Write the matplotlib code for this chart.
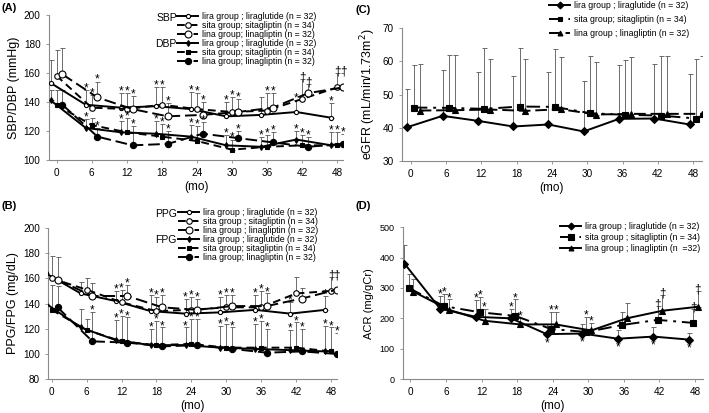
import numpy as np
import matplotlib
matplotlib.use("Agg")
from matplotlib import pyplot as plt
from matplotlib.lines import Line2D

plt.rcParams['font.family'] = ['Liberation Sans', 'DejaVu Sans']

months = [0, 6, 12, 18, 24, 30, 36, 42, 48]
groups = ['lira group ; liraglutide (n = 32)',
          'sita group; sitagliptin (n = 34)',
          'lina group; linagliptin (n = 32)']

# (A) blood pressure
sbp_lira = [153, 138, 136, 137, 135, 130, 131, 133, 129]
sbp_sita = [158, 136, 135, 138, 135, 133, 134, 142, 150]
sbp_lina = [159, 143, 135, 130, 131, 133, 136, 146, 150]
sbp_lira_top = [169, 148, 146, 150, 147, 140, 143, 141, 139]
sbp_sita_top = [176, 145, 146, 150, 146, 143, 146, 156, 160]
sbp_lina_top = [177, 154, 144, 139, 140, 142, 146, 152, 160]
dbp_lira = [141, 122, 119, 118, 116, 110, 109, 114, 110]
dbp_sita = [138, 124, 119, 116, 113, 107, 109, 110, 110]
dbp_lina = [138, 116, 110, 111, 118, 115, 112, 109, 111]
dbp_lira_top = [148, 128, 127, 127, 124, 117, 116, 120, 119]
dbp_sita_top = [148, 129, 129, 125, 123, 114, 117, 117, 119]
dbp_lina_top = [148, 122, 123, 120, 126, 120, 119, 116, 118]
sbp_lira_mk = ['', '*', '*', '*', '*', '*', '', '*', '*']
sbp_sita_mk = ['', '*', '*', '*', '*', '*', '*', '\u2020', '\u2020']
sbp_lina_mk = ['', '*', '*', '*', '*', '*', '*', '\u2020', '\u2020']
dbp_lira_mk = ['', '*', '*', '*', '*', '*', '*', '*', '*']
dbp_sita_mk = ['', '', '*', '*', '*', '*', '*', '*', '*']
dbp_lina_mk = ['', '*', '*', '*', '*', '*', '*', '*', '*']

# (B) glucose
ppg_lira = [164, 148, 142, 134, 132, 133, 135, 132, 135]
ppg_sita = [160, 151, 141, 134, 135, 137, 137, 148, 150]
ppg_lina = [159, 146, 146, 137, 135, 138, 138, 144, 151]
ppg_lira_top = [180, 157, 150, 147, 144, 145, 147, 141, 146]
ppg_sita_top = [178, 160, 151, 145, 145, 147, 150, 161, 161]
ppg_lina_top = [177, 156, 155, 147, 144, 147, 148, 152, 161]
fpg_lira = [140, 121, 111, 107, 107, 105, 104, 103, 102]
fpg_sita = [135, 119, 110, 107, 108, 105, 105, 105, 102]
fpg_lina = [137, 110, 109, 106, 107, 104, 101, 102, 100]
fpg_lira_top = [160, 136, 127, 120, 121, 122, 124, 119, 122]
fpg_sita_top = [155, 128, 130, 126, 128, 124, 126, 125, 121]
fpg_lina_top = [154, 133, 129, 121, 128, 121, 120, 120, 117]
ppg_lira_mk = ['', '', '*', '*', '*', '*', '*', '*', '*']
ppg_sita_mk = ['', '', '*', '*', '*', '*', '*', '', '\u2020']
ppg_lina_mk = ['', '', '*', '*', '*', '*', '*', '', '\u2020']
fpg_lira_mk = ['', '', '*', '*', '*', '*', '*', '*', '*']
fpg_sita_mk = ['', '', '*', '*', '*', '*', '*', '*', '*']
fpg_lina_mk = ['', '*', '*', '*', '*', '*', '*', '*', '*']

# (C) eGFR
egfr_lira = [40.2, 43.6, 42.1, 40.4, 41.0, 38.9, 42.7, 42.8, 41.0]
egfr_sita = [46.1, 46.0, 45.7, 46.4, 46.3, 44.4, 43.9, 43.7, 42.8]
egfr_lina = [45.2, 45.3, 45.5, 45.1, 45.6, 44.0, 44.2, 44.2, 44.2]
egfr_lira_top = [51.8, 57.5, 56.7, 55.7, 56.9, 54.0, 59.0, 59.2, 56.3]
egfr_sita_top = [58.8, 61.8, 64.0, 64.1, 63.6, 61.5, 60.3, 61.5, 60.6]
egfr_lina_top = [59.3, 61.8, 60.7, 60.7, 61.2, 59.9, 61.2, 61.5, 61.6]

# (D) ACR
acr_lira = [380, 232, 205, 200, 148, 150, 133, 140, 130]
acr_sita = [300, 240, 220, 208, 165, 155, 178, 195, 185]
acr_lina = [288, 228, 192, 180, 180, 160, 200, 225, 238]
acr_lira_top = [440, 275, 260, 232, 180, 180, 160, 170, 152]
acr_sita_top = [345, 280, 270, 262, 220, 205, 222, 240, 230]
acr_lina_top = [330, 262, 230, 200, 220, 185, 250, 278, 290]
acr_lira_mk = ['', '*', '*', '*', '', '', '', '', '']
acr_lira_below = ['', '', '', '', '*', '*', '*', '*', '*']
acr_sita_mk = ['', '*', '*', '*', '*', '*', '', '\u2020', '\u2020']
acr_lina_mk = ['', '*', '*', '*', '*', '*', '', '\u2020', '\u2020']

ECOL = '#555555'


def series(ax, y, top, off, ls, marker, ms, mfc, marks=None, below=None,
           span=1.0):
    xs = np.array(months, dtype=float) + off
    y = np.array(y, dtype=float)
    up = np.array(top, dtype=float) - y
    ax.errorbar(xs, y, yerr=[np.zeros(len(y)), up], fmt='none',
                ecolor=ECOL, elinewidth=0.6, capsize=1.8, capthick=0.6,
                zorder=1)
    ax.plot(xs, y, color='black', ls=ls, lw=1.4, marker=marker, ms=ms,
            mfc=mfc, mec='black', mew=0.8, zorder=3)
    if marks:
        for xi, t, m in zip(xs, top, marks):
            if m:
                ax.text(xi, t - 0.03 * span, m, ha='center', va='bottom',
                        fontsize=8.5, zorder=4)
    if below:
        for xi, yi, m in zip(xs, y, below):
            if m:
                ax.text(xi, yi - 0.02 * span, m, ha='center', va='top',
                        fontsize=8.5, zorder=4)


def style(ax, ylim, yticks, xlim=(-1.3, 49)):
    ax.set_xlim(*xlim)
    ax.set_ylim(*ylim)
    ax.set_yticks(yticks)
    ax.set_xticks(months)
    for s in ['top', 'right']:
        ax.spines[s].set_visible(False)
    for s in ['left', 'bottom']:
        ax.spines[s].set_color('#8a8a8a')
        ax.spines[s].set_linewidth(0.8)
    ax.tick_params(labelsize=7.2, length=2, width=0.6, color='#8a8a8a',
                   pad=4)
    ax.set_xlabel('(mo)', fontsize=8.5, labelpad=2)


fig = plt.figure(figsize=(7.09, 4.13), dpi=100)

DASH_S = (0, (4, 2.5))
DASH_L = (0, (6, 2.5))
DASH_DOT = (0, (7, 3, 1.5, 3))

# ---- (A)
axA = fig.add_axes([0.069, 0.613, 0.415, 0.351])
series(axA, sbp_lira, sbp_lira_top, -1, '-', 'o', 3, 'white', sbp_lira_mk, span=100)
series(axA, sbp_sita, sbp_sita_top, 0, DASH_S, 'o', 4, 'white', sbp_sita_mk, span=100)
series(axA, sbp_lina, sbp_lina_top, 1, DASH_L, 'o', 5, 'white', sbp_lina_mk, span=100)
series(axA, dbp_lira, dbp_lira_top, -1, '-', 'd', 3, 'black', dbp_lira_mk, span=100)
series(axA, dbp_sita, dbp_sita_top, 0, DASH_S, 's', 3.5, 'black', dbp_sita_mk, span=100)
series(axA, dbp_lina, dbp_lina_top, 1, DASH_L, 'o', 4.5, 'black', dbp_lina_mk, span=100)
style(axA, (100, 200), [100, 120, 140, 160, 180, 200])
axA.set_ylabel('SBP/DBP (mmHg)', fontsize=9, labelpad=3)

# ---- (B)
axB = fig.add_axes([0.068, 0.082, 0.407, 0.366])
series(axB, ppg_lira, ppg_lira_top, -1, '-', 'o', 3, 'white', ppg_lira_mk, span=120)
series(axB, ppg_sita, ppg_sita_top, 0, DASH_S, 'o', 4, 'white', ppg_sita_mk, span=120)
series(axB, ppg_lina, ppg_lina_top, 1, DASH_L, 'o', 5, 'white', ppg_lina_mk, span=120)
series(axB, fpg_lira, fpg_lira_top, -1, '-', 'd', 3, 'black', fpg_lira_mk, span=120)
series(axB, fpg_sita, fpg_sita_top, 0, DASH_S, 's', 3.5, 'black', fpg_sita_mk, span=120)
series(axB, fpg_lina, fpg_lina_top, 1, DASH_L, 'o', 4.5, 'black', fpg_lina_mk, span=120)
style(axB, (80, 200), [80, 100, 120, 140, 160, 180, 200], xlim=(-0.6, 49))
axB.set_ylabel('PPG/FPG (mg/dL)', fontsize=9, labelpad=3)

# ---- (C)
axC = fig.add_axes([0.567, 0.610, 0.423, 0.322])
series(axC, egfr_lira, egfr_lira_top, -0.6, '-', 'D', 4, 'black')
series(axC, egfr_sita, egfr_sita_top, 0.5, DASH_DOT, 's', 4, 'black')
series(axC, egfr_lina, egfr_lina_top, 1.5, DASH_L, '^', 4, 'black')
style(axC, (30, 70), [30, 40, 50, 60, 70], xlim=(-1.5, 49.5))
axC.set_ylabel('eGFR (mL/min/1.73m$^2$)', fontsize=9, labelpad=3)

# ---- (D)
axD = fig.add_axes([0.568, 0.082, 0.423, 0.368])
series(axD, acr_lira, acr_lira_top, -1, '-', 'D', 4, 'black', acr_lira_mk,
       acr_lira_below, span=500)
series(axD, acr_sita, acr_sita_top, -0.3, DASH_DOT, 's', 5, 'black', acr_sita_mk, span=500)
series(axD, acr_lina, acr_lina_top, 0.5, '-', '^', 4, 'black', acr_lina_mk, span=500)
style(axD, (0, 500), [0, 100, 200, 300, 400, 500], xlim=(-1.3, 49.3))
axD.tick_params(axis='y', labelsize=6.5)
axD.set_ylabel('ACR (mg/gCr)', fontsize=8, labelpad=4)


def h(ls, marker, ms, mfc):
    return Line2D([], [], color='black', ls=ls, lw=1.4, marker=marker,
                  ms=ms, mfc=mfc, mec='black', mew=0.8)


leg_kw = dict(fontsize=6.3, frameon=False, handlelength=2.4,
              handletextpad=0.5, labelspacing=0.0, borderpad=0,
              borderaxespad=0, loc='upper left')

hA = [h('-', 'o', 3, 'white'), h(DASH_S, 'o', 4, 'white'),
      h(DASH_L, 'o', 5, 'white'), h('-', 'd', 3, 'black'),
      h(DASH_S, 's', 3.5, 'black'), h(DASH_L, 'o', 4.5, 'black')]
fig.legend(hA, groups + groups, bbox_to_anchor=(177 / 709, 1 - 12 / 413),
           **leg_kw)
fig.text(157 / 709, 1 - 18 / 413, 'SBP', fontsize=7.5, va='center')
fig.text(155 / 709, 1 - 44 / 413, 'DBP', fontsize=7.5, va='center')

labB = ['lira group ; liraglutide (n = 32)',
        'sita group ; sitagliptin (n = 34)',
        'lina group ; linagliptin (n = 32)',
        'lira group ; liraglutide (n = 32)',
        'sita group; sitagliptin (n = 34)',
        'lina group; linagliptin (n = 32)']
fig.legend(hA, labB, bbox_to_anchor=(178 / 709, 1 - 208 / 413), **leg_kw)
fig.text(155 / 709, 1 - 214 / 413, 'PPG', fontsize=7.5, va='center')
fig.text(155 / 709, 1 - 240 / 413, 'FPG', fontsize=7.5, va='center')

hC = [h('-', 'D', 3.5, 'black'), h(DASH_DOT, 's', 3.5, 'black'),
      h(DASH_L, '^', 3.5, 'black')]
labC = ['lira group ; liraglutide (n = 32)',
        'sita group; sitagliptin (n = 34)',
        'lina group ; linagliptin (n = 32)']
kwC = dict(leg_kw)
kwC['labelspacing'] = 0.6
fig.legend(hC, labC, bbox_to_anchor=(549 / 709, 1 - 1 / 413), **kwC)

hD = [h('-', 'D', 3.5, 'black'), h(DASH_DOT, 's', 4, 'black'),
      h('-', '^', 3.5, 'black')]
labD = ['lira group ; liraglutide (n = 32)',
        'sita group ; sitagliptin (n = 34)',
        'lina group ; linagliptin (n  =32)']
kwD = dict(leg_kw)
kwD['labelspacing'] = 0.25
fig.legend(hD, labD, bbox_to_anchor=(560 / 709, 1 - 222 / 413), **kwD)

for lab, xp, yp in [('(A)', 2, 8), ('(B)', 2, 206), ('(C)', 356, 10),
                    ('(D)', 356, 206)]:
    fig.text(xp / 709, 1 - yp / 413, lab, fontsize=8, fontweight='bold',
             va='center')

fig.savefig('out.png', dpi=100)
